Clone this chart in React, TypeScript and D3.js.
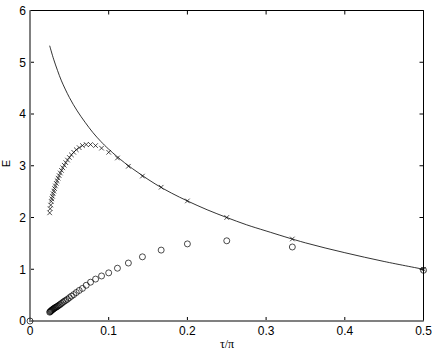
import React from "react";
import * as d3 from "d3";

// tau/pi sample positions (1/n for n = 2..40)
const nValues = [2,3,4,5,6,7,8,9,10,11,12,13,14,15,16,17,18,19,20,21,22,23,24,25,26,27,28,29,30,31,32,33,34,35,36,37,38,39,40];

// crosses (x markers)
const crossE = [1.00,1.585,2.00,2.32,2.585,2.80,2.99,3.15,3.26,3.34,3.39,3.41,3.41,3.39,3.35,3.31,3.26,3.21,3.16,3.11,3.06,3.01,2.96,2.91,2.86,2.81,2.76,2.71,2.66,2.61,2.56,2.51,2.46,2.41,2.36,2.31,2.24,2.17,2.09];

// circles (o markers)
const circleE = [0.98,1.43,1.55,1.49,1.37,1.24,1.12,1.02,0.93,0.87,0.81,0.75,0.69,0.63,0.59,0.55,0.51,0.48,0.45,0.42,0.40,0.38,0.36,0.34,0.32,0.31,0.29,0.28,0.27,0.26,0.25,0.24,0.23,0.22,0.21,0.20,0.19,0.18,0.17];

// extra circle at origin
const originCircle = [{ x: 0, e: 0 }];

// solid reference curve
const lineX = [0.025,0.03,0.035,0.04,0.05,0.06,0.07,0.08,0.09,0.1,0.12,0.14,0.16,0.18,0.2,0.225,0.25,0.275,0.3,0.35,0.4,0.45,0.5];
const lineE = [5.32,5.06,4.84,4.64,4.32,4.06,3.84,3.64,3.47,3.32,3.06,2.84,2.64,2.47,2.32,2.15,2.00,1.86,1.74,1.51,1.32,1.15,1.00];

const xTicks = [0, 0.1, 0.2, 0.3, 0.4, 0.5];
const yTicks = [0, 1, 2, 3, 4, 5, 6];

export default function App() {
  const W = 436, H = 354;
  const left = 30, right = 423.5, top = 10.5, bottom = 321;
  const x = d3.scaleLinear().domain([0, 0.5]).range([left, right]);
  const y = d3.scaleLinear().domain([0, 6]).range([bottom, top]);

  const lineData = lineX.map((v, i) => ({ x: v, e: lineE[i] }));
  const linePath = d3
    .line<{ x: number; e: number }>()
    .x((d) => x(d.x))
    .y((d) => y(d.e))
    .curve(d3.curveCatmullRom)(lineData) || "";

  const crosses = nValues.map((n, i) => ({ x: 1 / n, e: crossE[i] }));
  const circles = nValues.map((n, i) => ({ x: 1 / n, e: circleE[i] })).concat(originCircle);

  const tickLen = 4;
  const font = "'Liberation Sans', Arial, Helvetica, sans-serif";

  return (
    <svg
      width={W}
      height={H}
      style={{ position: "absolute", left: 0, top: 0, background: "#fff" }}
    >
      <rect x={0} y={0} width={W} height={H} fill="#fff" />
      {/* frame */}
      <line x1={left} x2={right} y1={top} y2={top} stroke="#000" strokeWidth={1} />
      <line x1={right} x2={right} y1={top} y2={bottom} stroke="#000" strokeWidth={1} />
      {/* ticks */}
      {xTicks.map((t) => (
        <g key={"xt" + t}>
          <line x1={x(t)} x2={x(t)} y1={bottom} y2={bottom - tickLen} stroke="#000" strokeWidth={1} />
          <line x1={x(t)} x2={x(t)} y1={top} y2={top + tickLen} stroke="#000" strokeWidth={1} />
          <text
            x={x(t)}
            y={335}
            textAnchor="middle"
            fontFamily={font}
            fontSize={12}
            fill="#000"
          >
            {String(t)}
          </text>
        </g>
      ))}
      {yTicks.map((t) => (
        <g key={"yt" + t}>
          <line x1={left} x2={left + tickLen} y1={y(t)} y2={y(t)} stroke="#000" strokeWidth={1} />
          <line x1={right} x2={right - tickLen} y1={y(t)} y2={y(t)} stroke="#000" strokeWidth={1} />
          <text
            x={26}
            y={y(t)}
            dy="0.36em"
            textAnchor="end"
            fontFamily={font}
            fontSize={12}
            fill="#000"
          >
            {String(t)}
          </text>
        </g>
      ))}
      <line x1={left} x2={left} y1={top} y2={bottom + 1} stroke="#808080" strokeWidth={2} />
      <line x1={left - 1} x2={right} y1={bottom} y2={bottom} stroke="#808080" strokeWidth={2} />

      {/* curve */}
      <path d={linePath} fill="none" stroke="#000" strokeWidth={0.8} />

      {/* crosses */}
      {crosses.map((d, i) => {
        const cx = x(d.x), cy = y(d.e), s = 2.3;
        return (
          <path
            key={"c" + i}
            d={`M${cx - s},${cy - s}L${cx + s},${cy + s}M${cx - s},${cy + s}L${cx + s},${cy - s}`}
            stroke="#000"
            strokeWidth={0.7}
            fill="none"
          />
        );
      })}

      {/* circles */}
      {circles.map((d, i) => (
        <circle
          key={"o" + i}
          cx={x(d.x)}
          cy={y(d.e)}
          r={3}
          fill="none"
          stroke="#000"
          strokeWidth={0.7}
        />
      ))}

      {/* axis labels */}
      <text
        x={227}
        y={348}
        textAnchor="middle"
        fontFamily="'Liberation Serif', 'Times New Roman', serif"
        fontSize={12}
        fill="#000"
      >
        τ/π
      </text>
      <text
        transform="translate(10,163.5) rotate(-90)"
        textAnchor="middle"
        fontFamily={font}
        fontSize={11}
        fill="#000"
      >
        E
      </text>
    </svg>
  );
}
